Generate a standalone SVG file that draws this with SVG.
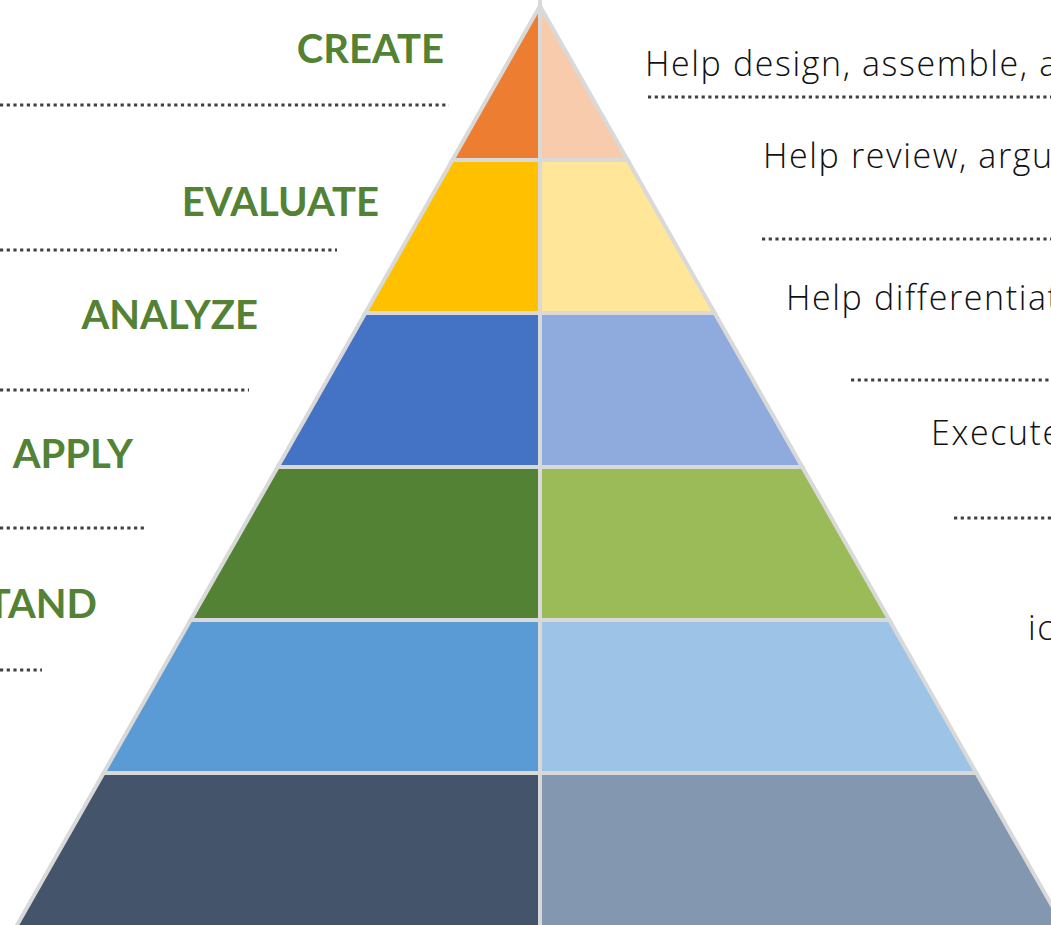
<svg xmlns="http://www.w3.org/2000/svg" width="1051" height="925" viewBox="0 0 1051 925">
  <style>
    .seg { stroke: #D9D9D9; stroke-width: 4; stroke-linejoin: miter; }
    .lvl { font-family: Lato, "Open Sans", "Liberation Sans", sans-serif; font-weight: bold; font-size: 40px; fill: #548235; }
    .desc { font-family: "Open Sans", Lato, "Liberation Sans", sans-serif; font-weight: 300; font-size: 34px; letter-spacing: 1.6px; fill: #111111; }
    .dot { stroke: #404040; stroke-width: 3.2; stroke-dasharray: 3.2 3.5; fill: none; }
  </style>
  <rect width="1051" height="925" fill="#FFFFFF"/>

  <g id="pyramid">
    <line x1="540" y1="0" x2="540" y2="10" stroke="#D9D9D9" stroke-width="4"/>
    <g id="create">
      <polygon class="seg" fill="#ED7D31" points="540,6 540,160 452.4,160"/>
      <polygon class="seg" fill="#F8CBAD" points="540,6 540,160 627.6,160"/>
    </g>
    <g id="evaluate">
      <polygon class="seg" fill="#FFC000" points="452.4,160 540,160 540,313 365.3,313"/>
      <polygon class="seg" fill="#FFE699" points="627.6,160 540,160 540,313 714.7,313"/>
    </g>
    <g id="analyze">
      <polygon class="seg" fill="#4472C4" points="365.3,313 540,313 540,467 277.7,467"/>
      <polygon class="seg" fill="#8FAADC" points="714.7,313 540,313 540,467 802.3,467"/>
    </g>
    <g id="apply">
      <polygon class="seg" fill="#548235" points="277.7,467 540,467 540,620 190.6,620"/>
      <polygon class="seg" fill="#9BBB59" points="802.3,467 540,467 540,620 889.4,620"/>
    </g>
    <g id="understand">
      <polygon class="seg" fill="#5B9BD5" points="190.6,620 540,620 540,773 103.6,773"/>
      <polygon class="seg" fill="#9DC3E6" points="889.4,620 540,620 540,773 976.4,773"/>
    </g>
    <g id="remember">
      <polygon class="seg" fill="#44546A" points="103.6,773 540,773 540,935 11.4,935"/>
      <polygon class="seg" fill="#8497B0" points="976.4,773 540,773 540,935 1068.6,935"/>
    </g>
  </g>

  <g id="labels-left">
    <text class="lvl" x="444" y="63" text-anchor="end">CREATE</text>
    <text class="lvl" x="379" y="216" text-anchor="end">EVALUATE</text>
    <text class="lvl" x="258" y="329" text-anchor="end">ANALYZE</text>
    <text class="lvl" x="133" y="468" text-anchor="end">APPLY</text>
    <text class="lvl" x="97" y="618" text-anchor="end">TAND</text>
  </g>

  <g id="labels-right">
    <text class="desc" x="645" y="76">Help design, assemble, a</text>
    <text class="desc" x="763" y="168">Help review, argu</text>
    <text class="desc" x="786" y="310">Help differentiat</text>
    <text class="desc" x="931" y="445">Execute</text>
    <text class="desc" x="1028" y="640">ic</text>
  </g>

  <g id="connectors">
    <line class="dot" x1="0" y1="105" x2="449" y2="105"/>
    <line class="dot" x1="0" y1="250" x2="337" y2="250"/>
    <line class="dot" x1="0" y1="390" x2="249" y2="390"/>
    <line class="dot" x1="0" y1="528" x2="145" y2="528"/>
    <line class="dot" x1="0" y1="670" x2="42" y2="670"/>
    <line class="dot" x1="648" y1="97" x2="1051" y2="97"/>
    <line class="dot" x1="762" y1="239" x2="1051" y2="239"/>
    <line class="dot" x1="851" y1="380" x2="1051" y2="380"/>
    <line class="dot" x1="954" y1="518" x2="1051" y2="518"/>
  </g>
</svg>
